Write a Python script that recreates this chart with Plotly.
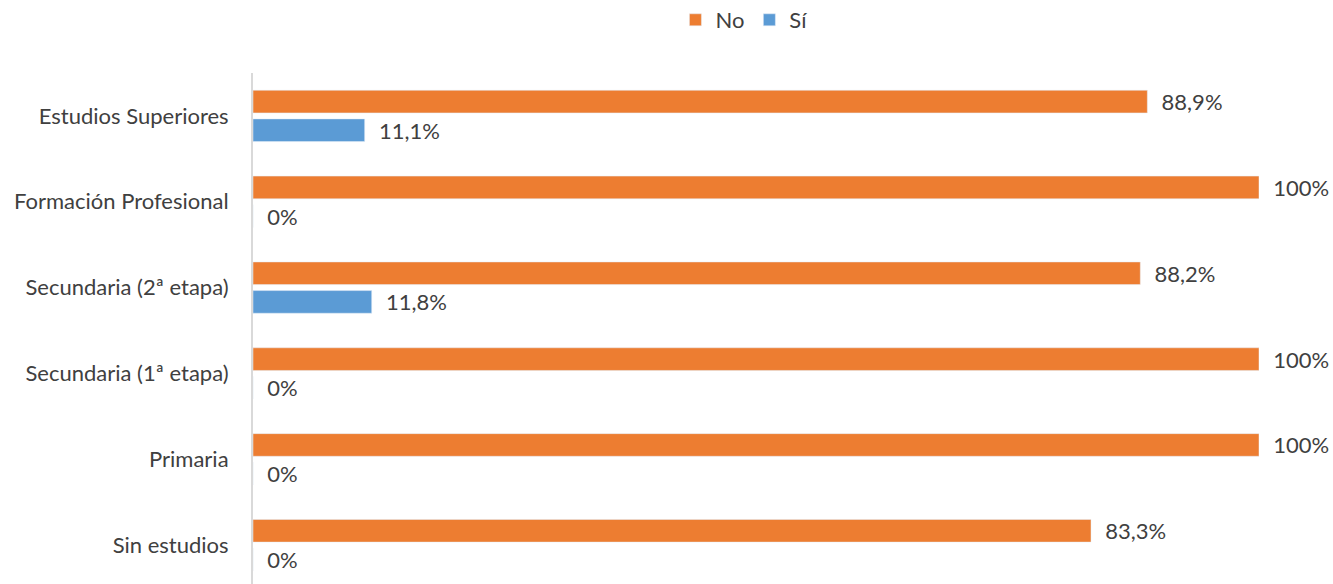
import plotly.graph_objects as go

categories = ["Sin estudios", "Primaria", "Secundaria (1ª etapa)", "Secundaria (2ª etapa)",
              "Formación Profesional", "Estudios Superiores"]
no_values = [83.3, 100, 100, 88.2, 100, 88.9]
si_values = [0, 0, 0, 11.8, 0, 11.1]
no_labels = ["83,3%", "100%", "100%", "88,2%", "100%", "88,9%"]
si_labels = ["0%", "0%", "0%", "11,8%", "0%", "11,1%"]

FONT = "Lato"
TXT = "#404040"
FS = 22
pad = "\u00a0\u00a0"

fig = go.Figure()
fig.add_trace(go.Bar(
    y=categories, x=si_values, name="Sí", orientation="h",
    marker=dict(color="#5B9BD5"), text=[pad + t for t in si_labels],
    textposition="outside", cliponaxis=False, constraintext="none",
    textfont=dict(family=FONT, size=FS, color=TXT), legendrank=2,
))
fig.add_trace(go.Bar(
    y=categories, x=no_values, name="No", orientation="h",
    marker=dict(color="#ED7D31"), text=[pad + t for t in no_labels],
    textposition="outside", cliponaxis=False, constraintext="none",
    textfont=dict(family=FONT, size=FS, color=TXT), legendrank=1,
))

fig.update_layout(
    width=1333, height=584,
    paper_bgcolor="white", plot_bgcolor="white",
    barmode="group", bargap=0.333, bargroupgap=0.209,
    margin=dict(l=253, r=74, t=73, b=0, autoexpand=False),
    font=dict(family=FONT, color=TXT, size=FS),
    showlegend=True,
    legend=dict(orientation="h", x=0.488, xanchor="center", y=1.1037, yref="paper",
                yanchor="middle", font=dict(family=FONT, size=FS, color=TXT),
                itemwidth=30, tracegroupgap=0),
    xaxis=dict(range=[0, 100], showticklabels=False, showgrid=False, zeroline=False,
               showline=False, fixedrange=True),
    yaxis=dict(categoryorder="array", categoryarray=categories, range=[-0.453, 5.5],
               showline=True, linecolor="#d9d9d9", linewidth=2, ticks="",
               showgrid=False, ticklabelstandoff=18, automargin=False, fixedrange=True,
               tickfont=dict(family=FONT, size=FS, color=TXT)),
)

fig.write_html(
    "out.html",
    config={"displayModeBar": False},
    post_script="document.body.style.margin='0';document.body.style.overflow='hidden';",
)
